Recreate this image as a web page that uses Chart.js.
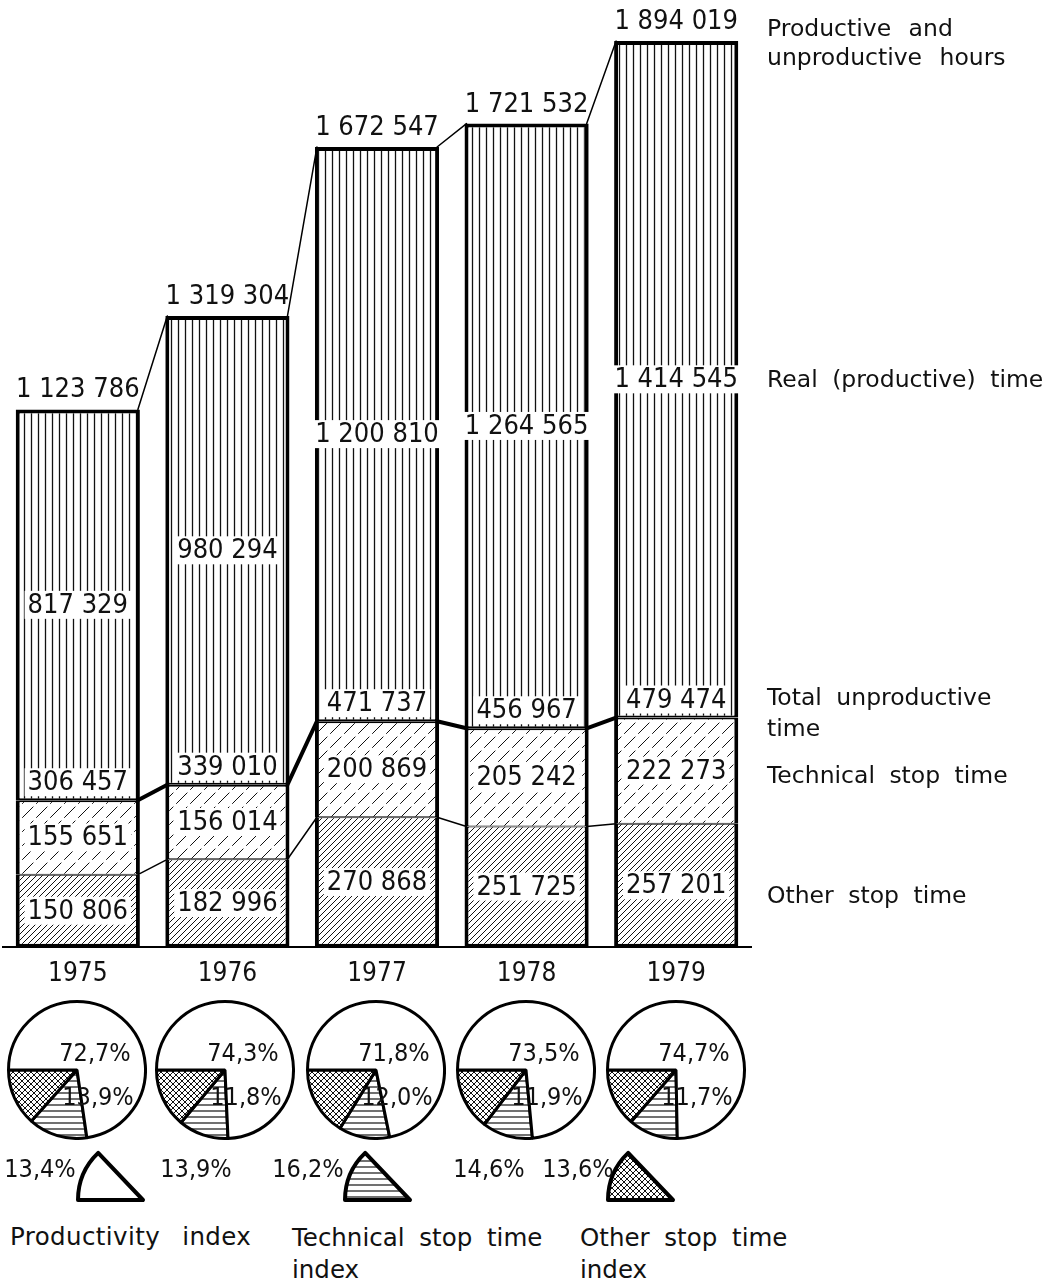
<!DOCTYPE html>
<html>
<head>
<meta charset="utf-8">
<script src="https://cdn.jsdelivr.net/npm/chart.js@4.4.1/dist/chart.umd.min.js"></script>
<style>
  body { margin: 0; background: #fff; }
  #wrap { position: relative; width: 1049px; height: 1281px; overflow: hidden; }
  .txt { position: absolute; font-family: 'DejaVu Sans', sans-serif; font-size: 23.5px; color: #111; line-height: 30px; word-spacing: 7px; white-space: nowrap; }
  .pct { position: absolute; font-family: 'DejaVu Sans Condensed', 'Liberation Sans Narrow', 'DejaVu Sans', sans-serif; font-size: 25px; color: #111; transform: translate(-50%, -50%); white-space: nowrap; }
  canvas { position: absolute; }
</style>
</head>
<body>
<div id="wrap">
  <canvas id="bars" width="1049" height="1017" style="left:0;top:0"></canvas>
  <canvas id="legendShapes" width="760" height="70" style="left:0;top:1140px"></canvas>

  <div class="txt" style="left:767px;top:14px;line-height:29px;word-spacing:10px">Productive and<br>unproductive hours</div>
  <div class="txt" style="left:767px;top:364px">Real (productive) time</div>
  <div class="txt" style="left:767px;top:682px;line-height:31px">Total unproductive<br>time</div>
  <div class="txt" style="left:767px;top:760px">Technical stop time</div>
  <div class="txt" style="left:767px;top:880px">Other stop time</div>

  <div class="txt" style="left:10px;top:1222px;font-size:24.5px;word-spacing:14px;letter-spacing:0.4px">Productivity index</div>
  <div class="txt" style="left:292px;top:1222px;line-height:32px;font-size:24.5px">Technical stop time<br>index</div>
  <div class="txt" style="left:580px;top:1222px;line-height:32px;font-size:24.5px">Other stop time<br>index</div>
</div>
<script>
// values
const years = ['1975', '1976', '1977', '1978', '1979'];
const otherStop = [150806, 182996, 270868, 251725, 257201];
const technicalStop = [155651, 156014, 200869, 205242, 222273];
const productiveTime = [817329, 980294, 1200810, 1264565, 1414545];
const totalUnproductive = [306457, 339010, 471737, 456967, 479474];
const totalHours = [1123786, 1319304, 1672547, 1721532, 1894019];

const productivityPct = [72.7, 74.3, 71.8, 73.5, 74.7];
const technicalPct = [13.9, 11.8, 12.0, 11.9, 11.7];
const otherPct = [13.4, 13.9, 16.2, 14.6, 13.6];

const numFont = "27px 'DejaVu Sans Condensed', 'Liberation Sans Narrow', 'DejaVu Sans', sans-serif";

// hatch patterns
function makePattern(w, h, draw) {
    const c = document.createElement('canvas');
    c.width = w; c.height = h;
    const g = c.getContext('2d');
    g.fillStyle = '#fff';
    g.fillRect(0, 0, w, h);
    g.strokeStyle = '#111';
    draw(g, w, h);
    return g.createPattern(c, 'repeat');
}

const verticalLines = makePattern(7, 7, (g) => {
    g.lineWidth = 1.3;
    g.beginPath(); g.moveTo(3.5, 0); g.lineTo(3.5, 7); g.stroke();
});
const sparseDiag = makePattern(14, 14, (g, w, h) => {
    g.lineWidth = 1;
    g.setLineDash([9, 4]);
    g.beginPath(); g.moveTo(-1, h + 1); g.lineTo(w + 1, -1); g.stroke();
});
const denseDiag = makePattern(6, 6, (g, w, h) => {
    g.lineWidth = 1;
    g.beginPath();
    g.moveTo(-1, h + 1); g.lineTo(w + 1, -1);
    g.moveTo(-1, 1); g.lineTo(1, -1);
    g.moveTo(w - 1, h + 1); g.lineTo(w + 1, h - 1);
    g.stroke();
});
const crossHatch = makePattern(6, 6, (g, w, h) => {
    g.lineWidth = 1;
    g.beginPath();
    g.moveTo(-1, h + 1); g.lineTo(w + 1, -1);
    g.moveTo(-1, -1); g.lineTo(w + 1, h + 1);
    g.stroke();
});
const horizontalLines = makePattern(6, 6, (g) => {
    g.lineWidth = 1.2;
    g.beginPath(); g.moveTo(0, 3); g.lineTo(6, 3); g.stroke();
});

const fmt = v => String(v).replace(/\B(?=(\d{3})+(?!\d))/g, ' ');

// connecting lines + value labels
const barLabels = {
    id: 'barLabels',
    afterDatasetsDraw(chart) {
        const ctx = chart.ctx;
        const other = chart.getDatasetMeta(0).data;
        const tech = chart.getDatasetMeta(1).data;
        const prod = chart.getDatasetMeta(2).data;

        ctx.save();
        ctx.strokeStyle = '#000';
        ctx.lineCap = 'round';
        for (let i = 0; i < prod.length - 1; i++) {
            const r = prod[i].x + prod[i].width / 2 - 2;
            const l = prod[i + 1].x - prod[i + 1].width / 2 + 2;
            [[prod, 1.5], [tech, 4], [other, 1.5]].forEach(([set, lw]) => {
                ctx.lineWidth = lw;
                ctx.beginPath();
                ctx.moveTo(r, set[i].y);
                ctx.lineTo(l, set[i + 1].y);
                ctx.stroke();
            });
        }

        ctx.font = numFont;
        ctx.textAlign = 'center';
        ctx.textBaseline = 'middle';
        const label = (text, x, y, box) => {
            if (box) {
                const w = ctx.measureText(text).width + 6;
                ctx.fillStyle = '#fff';
                ctx.fillRect(x - w / 2, y - 14, w, 28);
            }
            ctx.fillStyle = '#111';
            ctx.fillText(text, x, y + 1);
        };
        for (let i = 0; i < prod.length; i++) {
            const x = prod[i].x;
            label(fmt(otherStop[i]), x, (other[i].y + other[i].base) / 2, true);
            label(fmt(technicalStop[i]), x, (tech[i].y + tech[i].base) / 2, true);
            label(fmt(productiveTime[i]), x, (prod[i].y + prod[i].base) / 2, true);
            label(fmt(totalUnproductive[i]), x, tech[i].y - 18, true);
            label(fmt(totalHours[i]), x, prod[i].y - 20, false);
        }
        ctx.restore();
    }
};

new Chart(document.getElementById('bars'), {
    type: 'bar',
    data: {
        labels: years,
        datasets: [{
            label: 'Other stop time',
            data: otherStop,
            backgroundColor: denseDiag,
            borderColor: '#000',
            borderWidth: { left: 4, right: 4, bottom: 3, top: 1 },
            borderSkipped: false
        }, {
            label: 'Technical stop time',
            data: technicalStop,
            backgroundColor: sparseDiag,
            borderColor: '#000',
            borderWidth: { left: 4, right: 4, bottom: 1, top: 2 },
            borderSkipped: false
        }, {
            label: 'Real (productive) time',
            data: productiveTime,
            backgroundColor: verticalLines,
            borderColor: '#000',
            borderWidth: { left: 4, right: 4, bottom: 2, top: 4 },
            borderSkipped: false
        }]
    },
    options: {
        responsive: false,
        animation: false,
        layout: { padding: { left: 3, right: 298, top: 0, bottom: 15 } },
        datasets: { bar: { barPercentage: 0.83, categoryPercentage: 1 } },
        scales: {
            x: {
                stacked: true,
                grid: { display: false, drawTicks: false },
                border: { display: true, color: '#000', width: 2 },
                ticks: {
                    color: '#111',
                    padding: 12,
                    font: { family: "'DejaVu Sans Condensed', 'Liberation Sans Narrow', 'DejaVu Sans'", size: 26 }
                }
            },
            y: {
                stacked: true,
                display: false,
                min: 0,
                max: 1980000
            }
        },
        plugins: {
            legend: { display: false },
            tooltip: { enabled: false }
        }
    },
    plugins: [barLabels]
});

// yearly pies
const pieCenters = [77, 225, 376, 526, 676];
const pieY = 1070;
const otherLabelX = [40, 196, 308, 489, 578];
const wrap = document.getElementById('wrap');
const pct = v => v.toFixed(1).replace('.', ',') + '%';

years.forEach((yr, i) => {
    const c = document.createElement('canvas');
    c.width = 140; c.height = 140;
    c.style.left = (pieCenters[i] - 70) + 'px';
    c.style.top = (pieY - 70) + 'px';
    wrap.appendChild(c);

    new Chart(c, {
        type: 'pie',
        data: {
            labels: ['Technical stop time', 'Other stop time', 'Real (productive) time'],
            datasets: [{
                data: [technicalPct[i], otherPct[i], productivityPct[i]],
                backgroundColor: [horizontalLines, crossHatch, '#fff'],
                borderColor: '#000',
                borderWidth: 3
            }]
        },
        options: {
            responsive: false,
            animation: false,
            rotation: 270 - (technicalPct[i] + otherPct[i]) * 3.6,
            plugins: { legend: { display: false }, tooltip: { enabled: false } }
        }
    });

    const add = (text, x, y) => {
        const d = document.createElement('div');
        d.className = 'pct';
        d.style.left = x + 'px';
        d.style.top = y + 'px';
        d.textContent = text;
        wrap.appendChild(d);
    };
    add(pct(productivityPct[i]), pieCenters[i] + 18, pieY - 18);
    add(pct(technicalPct[i]), pieCenters[i] + 21, pieY + 26);
    add(pct(otherPct[i]), otherLabelX[i], 1168);
});

// index legend shapes
const lg = document.getElementById('legendShapes').getContext('2d');
[[143, '#fff'], [410, horizontalLines], [673, crossHatch]].forEach(([cx, fill]) => {
    const cy = 60, r = 65;
    lg.beginPath();
    lg.moveTo(cx, cy);
    lg.lineTo(cx - r, cy);
    lg.arc(cx, cy, r, Math.PI, Math.PI + 0.81);
    lg.closePath();
    lg.fillStyle = fill;
    lg.fill();
    lg.lineWidth = 4;
    lg.lineJoin = 'round';
    lg.strokeStyle = '#000';
    lg.stroke();
});
</script>
</body>
</html>
